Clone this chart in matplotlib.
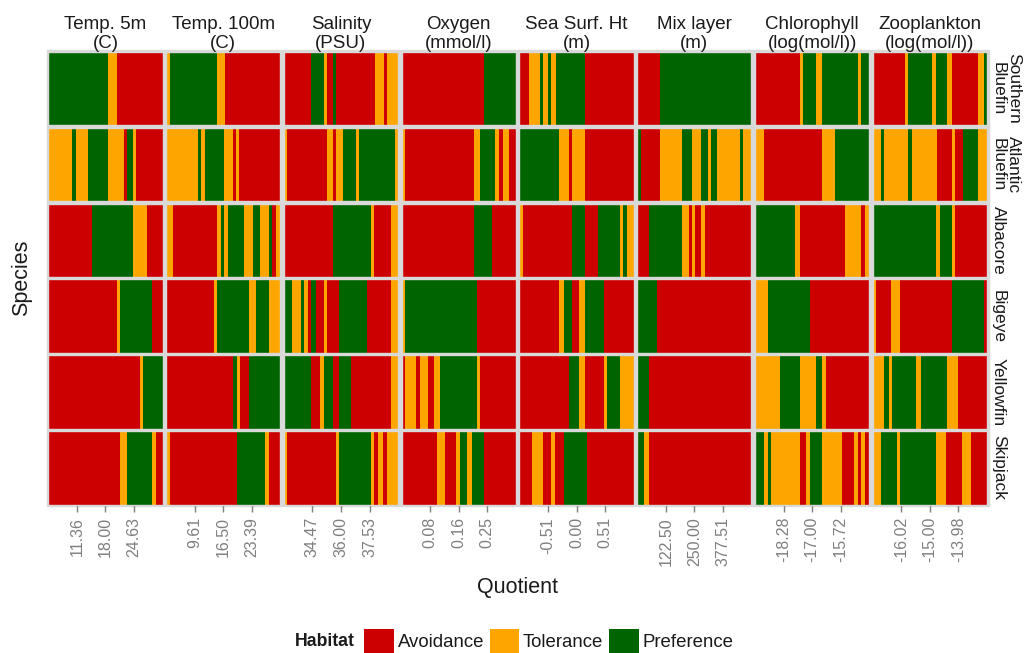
import matplotlib
matplotlib.use("Agg")
import matplotlib.pyplot as plt
from matplotlib.patches import Patch, Rectangle

plt.rcParams['font.family'] = ['Liberation Sans', 'DejaVu Sans']

SPECIES = ["Southern\nBluefin", "Atlantic\nBluefin", "Albacore",
           "Bigeye", "Yellowfin", "Skipjack"]

VARIABLES = ["Temp. 5m\n(C)", "Temp. 100m\n(C)", "Salinity\n(PSU)",
             "Oxygen\n(mmol/l)", "Sea Surf. Ht\n(m)", "Mix layer\n(m)",
             "Chlorophyll\n(log(mol/l))", "Zooplankton\n(log(mol/l))"]

# quotient range of each variable
RANGES = [(4.725, 31.265), (2.72, 30.28), (32.94, 39.06), (0.0, 0.33),
          (-1.02, 1.02), (-5.0, 505.01), (-19.56, -14.44), (-17.04, -12.96)]

TICK_LABELS = [["11.36", "18.00", "24.63"],
               ["9.61", "16.50", "23.39"],
               ["34.47", "36.00", "37.53"],
               ["0.08", "0.16", "0.25"],
               ["-0.51", "0.00", "0.51"],
               ["122.50", "250.00", "377.51"],
               ["-18.28", "-17.00", "-15.72"],
               ["-16.02", "-15.00", "-13.98"]]

# habitat runs along each range: letter = habitat, number = percent of range
TEMP_5M = ["G52 T8 R40",
           "T21 G3 T11 G17 T14 R3 G5 T3 R23",
           "R38 G36 T12 R14",
           "R60 T3 G28 R9",
           "R80 T3 G17",
           "R63 T6 G22 T3 R6"]

TEMP_100M = ["T3 G42 T7 R48",
             "T28 G3 T3 G17 T8 R2 T3 R36",
             "T6 R39 T3 G3 T3 G14 T8 G6 T8 G3 R3 T4",
             "R42 T3 G28 T6 G11 T10",
             "R59 G3 T3 R8 G27",
             "T3 R59 G25 T3 R10"]

SALINITY = ["R24 G11 T3 R5 G3 R34 T8 R2 T10",
            "T3 R35 T5 R3 T6 G11 T3 G31 T3",
            "R43 G33 T3 R15 T6",
            "G7 T8 G3 T3 R3 G4 R7 T3 R10 G25 R21 T6",
            "G24 R8 T3 G8 R5 G11 R35 T6",
            "T3 R43 T2 G28 T3 R3 T5 R3 T10"]

OXYGEN = ["R72 G28",
          "T3 R60 T6 G13 T3 R4 T5 R6",
          "R63 G16 R21",
          "T3 G63 R34",
          "R3 T10 R3 T7 R5 T6 G32 T3 R31",
          "R31 T7 R10 T3 G6 T5 G10 R28"]

SEA_SURF_HT = ["R8 T10 G3 T4 G3 T4 G25 R43",
               "G35 T8 R3 T11 R43",
               "T3 R43 G11 R12 G19 T3 G3 T6",
               "R35 T4 G7 R6 T5 G17 R26",
               "R43 G9 T5 R17 T3 G11 T12",
               "R11 T10 R7 T3 R8 G20 R41"]

MIX_LAYER = ["R20 G80",
             "G3 R17 T19 G9 T8 G6 T3 G5 T20 G3 T7",
             "R10 G29 T6 R3 T3 R5 T3 R41",
             "G17 R83",
             "G10 R90",
             "G6 T4 R90"]

CHLOROPHYLL = ["R39 T3 G11 T6 G31 T3 G7",
               "T8 R51 T11 G30",
               "G35 T4 R40 T14 R3 T4",
               "T11 G37 R52",
               "T22 G17 T14 G6 T3 R38",
               "G8 T3 G3 T25 R6 T3 G11 T17 R11 T3 R3 T3 R4"]

ZOOPLANKTON = ["R28 T3 G21 T3 G10 T4 R23 T5 G3",
               "T7 G3 T21 G3 T22 R13 T3 R7 G13 T8",
               "G55 T4 G10 T3 R28",
               "T3 R13 T8 R45 G28 R3",
               "T10 G4 T3 G21 T4 G23 T10 R25",
               "T7 G14 T3 G31 T9 R14 T8 R14"]

RUNS = [TEMP_5M, TEMP_100M, SALINITY, OXYGEN,
        SEA_SURF_HT, MIX_LAYER, CHLOROPHYLL, ZOOPLANKTON]

HABITATS = [("R", "Avoidance"), ("T", "Tolerance"), ("G", "Preference")]
COLORS = {"R": "#cc0000", "T": "#ffa500", "G": "#006400"}

TEXT = "#1a1a1a"
GREY = "#7f7f7f"
FRAME = "#d9d9d9"


def parse_runs(text):
    return [(item[0], float(item[1:])) for item in text.split()]


def draw_cell(ax, runs, lo, hi):
    start = lo
    for habitat, pct in parse_runs(runs):
        width = pct / 100.0 * (hi - lo)
        ax.barh(0, width, left=start, height=1.0, color=COLORS[habitat],
                linewidth=0)
        start += width
    ax.set_xlim(lo, hi)
    ax.set_ylim(-0.5, 0.5)


def main():
    fig = plt.figure(figsize=(10.26, 6.53), dpi=100)
    left, right = 48.3 / 1026, 987 / 1026
    top, bottom = 1 - 52 / 653, 1 - 504.5 / 653

    fig.patches.append(Rectangle((left - 1.5 / 1026, bottom - 1.5 / 653),
                                 right - left + 3 / 1026, top - bottom + 3 / 653,
                                 transform=fig.transFigure, color=FRAME,
                                 zorder=-5))

    axes = fig.subplots(len(SPECIES), len(VARIABLES))
    fig.subplots_adjust(left=left, right=right, top=top, bottom=bottom,
                        wspace=0.031, hspace=0.034)

    for j, (variable, runs_list, (lo, hi), labels) in enumerate(
            zip(VARIABLES, RUNS, RANGES, TICK_LABELS)):
        for i, species in enumerate(SPECIES):
            ax = axes[i, j]
            draw_cell(ax, runs_list[i], lo, hi)
            for spine in ax.spines.values():
                spine.set_color(FRAME)
                spine.set_linewidth(1.0)
            ax.set_yticks([])
            ticks = [lo + q * (hi - lo) for q in (0.25, 0.5, 0.75)]
            ax.set_xticks(ticks)
            if i == len(SPECIES) - 1:
                ax.set_xticklabels(labels, rotation=90, fontsize=11.5,
                                   color=GREY)
                ax.tick_params(axis='x', length=5, width=1, color=GREY,
                               pad=4)
            else:
                ax.tick_params(axis='x', bottom=False, labelbottom=False)
            if i == 0:
                ax.set_title(variable, fontsize=13.5, color=TEXT, pad=3,
                             linespacing=1.12)
            if j == len(VARIABLES) - 1:
                ax.text(1.035, 0.5, species, transform=ax.transAxes,
                        rotation=-90, ha='left', va='center',
                        multialignment='center', fontsize=12.5, color=TEXT,
                        linespacing=0.98)

    fig.text(0.5045, 1 - 587 / 653, "Quotient", ha='center', va='center',
             fontsize=15.5, color=TEXT)
    fig.text(22 / 1026, 0.574, "Species", ha='center', va='center',
             rotation=90, fontsize=15.5, color=TEXT)

    fig.text(295 / 1026, 1 - 641 / 653, "Habitat", ha='left', va='center',
             fontsize=12.7, fontweight='bold', color=TEXT)
    handles = [Patch(facecolor=COLORS[key], edgecolor='none', label=name)
               for key, name in HABITATS]
    fig.legend(handles=handles, loc='center left', ncol=3, frameon=False,
               bbox_to_anchor=(364 / 1026, 1 - 641 / 653), borderpad=0,
               borderaxespad=0, fontsize=13.4, handlelength=1.6,
               handleheight=1.6, handletextpad=0.2, columnspacing=0.3,
               labelcolor=TEXT)

    fig.savefig("out.png", dpi=100)


if __name__ == '__main__':
    main()
